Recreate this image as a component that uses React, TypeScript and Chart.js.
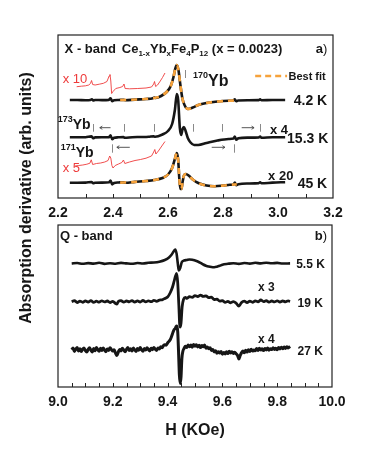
import React, { useEffect, useRef } from "react";
import { Chart, registerables } from "chart.js";

Chart.register(...registerables);

const FONT = "'Liberation Sans', Arial, Helvetica, sans-serif";

// ---------------- Panel a) X-band ----------------
const xBandTicks = [2.2, 2.4, 2.6, 2.8, 3.0, 3.2];

const h42 = [2.243, 2.27, 2.3, 2.318, 2.323, 2.328, 2.335, 2.36, 2.385, 2.391, 2.397, 2.404, 2.42, 2.44, 2.445, 2.48, 2.52, 2.545, 2.55, 2.555, 2.575, 2.595, 2.61, 2.62, 2.627, 2.632, 2.638, 2.645, 2.652, 2.66, 2.672, 2.69, 2.71, 2.74, 2.78, 2.82, 2.838, 2.843, 2.848, 2.855, 2.89, 2.93, 2.935, 2.94, 2.98, 3.026];
const s42 = [98, 98, 97.8, 98, 98.8, 97.5, 98, 97.9, 98.1, 99.8, 96.7, 97.7, 98, 98.3, 97.7, 98.4, 99, 99.8, 100.4, 100, 102, 106, 112, 121, 130, 133, 128, 113, 100, 93, 89, 90.5, 93, 95, 96.5, 97.2, 97.5, 98.7, 96.8, 97.5, 97.8, 97.9, 98.6, 97.7, 98, 98];

const hFit42 = [2.426, 2.46, 2.5, 2.53, 2.555, 2.575, 2.595, 2.61, 2.62, 2.627, 2.632, 2.638, 2.645, 2.652, 2.66, 2.672, 2.69, 2.71, 2.74, 2.78, 2.82, 2.841];
const sFit42 = [98, 98.2, 98.6, 99.3, 100.3, 102, 106, 112, 121, 130, 133, 128, 113, 100, 93, 89, 90.5, 93, 95, 96.5, 97.2, 97.5];

const h153 = [2.243, 2.27, 2.3, 2.322, 2.328, 2.335, 2.36, 2.386, 2.391, 2.397, 2.404, 2.42, 2.438, 2.443, 2.47, 2.5, 2.53, 2.548, 2.553, 2.58, 2.6, 2.615, 2.625, 2.632, 2.637, 2.643, 2.648, 2.653, 2.658, 2.664, 2.672, 2.682, 2.695, 2.71, 2.74, 2.78, 2.82, 2.838, 2.843, 2.848, 2.856, 2.89, 2.93, 2.935, 2.94, 2.98, 3.026];
const s153 = [60.7, 60.7, 60.8, 61.6, 59.8, 60.6, 60.7, 60.9, 62.7, 58.8, 60.2, 60.7, 61, 60.2, 60.8, 61, 61.3, 61.8, 61.2, 63.5, 67, 74, 88, 104, 98, 70, 63, 69, 71, 67, 60, 55.5, 53, 53, 55, 57.5, 59, 59.4, 61.5, 58.2, 59.7, 60.4, 60.6, 61.4, 60.2, 60.7, 60.7];

const h45 = [2.243, 2.27, 2.3, 2.322, 2.328, 2.335, 2.36, 2.386, 2.391, 2.397, 2.404, 2.42, 2.44, 2.445, 2.48, 2.52, 2.55, 2.58, 2.6, 2.615, 2.625, 2.632, 2.637, 2.641, 2.645, 2.649, 2.653, 2.658, 2.665, 2.675, 2.69, 2.71, 2.74, 2.77, 2.8, 2.825, 2.838, 2.843, 2.848, 2.856, 2.89, 2.93, 2.935, 2.94, 2.98, 3.026];
const s45 = [15.3, 15.3, 15.4, 16, 14.8, 15.3, 15.4, 15.7, 17.5, 13.6, 15, 15.5, 15.8, 15.2, 16.1, 17, 18, 20, 23.5, 30, 39, 45, 38, 20, 9, 9, 16, 22.5, 24, 22.5, 18.5, 15, 12.5, 11.8, 12.4, 13.2, 13.5, 15.4, 12.7, 13.8, 14.5, 14.9, 15.8, 14.7, 15.4, 15.8];

const hFit45 = [2.426, 2.47, 2.52, 2.55, 2.58, 2.6, 2.615, 2.625, 2.632, 2.637, 2.641, 2.645, 2.649, 2.653, 2.658, 2.665, 2.675, 2.69, 2.71, 2.74, 2.77, 2.8, 2.825, 2.85];
const sFit45 = [15.4, 15.9, 17, 18, 20, 23.5, 30, 39, 45, 38, 20, 9, 9, 16, 22.5, 24, 22.5, 18.5, 15, 12.5, 11.8, 12.4, 13.2, 13.6];

const hRed10 = [2.268, 2.285, 2.3, 2.312, 2.318, 2.322, 2.326, 2.335, 2.35, 2.365, 2.378, 2.386, 2.389, 2.392, 2.395, 2.4, 2.41, 2.425, 2.435, 2.44, 2.444, 2.46, 2.49, 2.52, 2.54, 2.548, 2.551, 2.555, 2.562, 2.572, 2.58, 2.589];
const sRed10 = [111.3, 111.8, 112.2, 113, 114.5, 117.5, 113.5, 113, 113.8, 114.7, 116.5, 122, 123.5, 117, 104.5, 106.5, 109.5, 110.5, 111.5, 114, 109.5, 109.2, 109.5, 110, 111, 114, 116.5, 111.5, 113, 117, 120.5, 125];

const hRed5 = [2.262, 2.275, 2.29, 2.305, 2.316, 2.321, 2.326, 2.34, 2.355, 2.37, 2.382, 2.388, 2.392, 2.396, 2.4, 2.408, 2.42, 2.432, 2.438, 2.443, 2.46, 2.48, 2.5, 2.52, 2.54, 2.548, 2.552, 2.556, 2.565, 2.575, 2.589];
const sRed5 = [32, 32.5, 33, 33.8, 34.8, 38.2, 33.5, 34.5, 35, 36, 37.5, 42, 40, 32.5, 30, 32.5, 34, 35.5, 38, 34.5, 36, 37.5, 38.5, 39.8, 42, 46, 48.5, 44, 47, 51, 56.5];

// hyperfine line positions (KOe)
const hf173 = [2.328, 2.441, 2.55, 2.69, 2.795, 2.935];
const hf171 = [2.397, 2.841];
const hf170 = [2.662];

// ---------------- Panel b) Q-band ----------------
const qBandTicks = [9.0, 9.2, 9.4, 9.6, 9.8, 10.0];

const h55 = [9.05, 9.07, 9.09, 9.11, 9.13, 9.15, 9.17, 9.19, 9.21, 9.23, 9.25, 9.27, 9.29, 9.31, 9.33, 9.35, 9.37, 9.39, 9.405, 9.415, 9.422, 9.428, 9.433, 9.437, 9.441, 9.446, 9.452, 9.46, 9.47, 9.48, 9.49, 9.5, 9.51, 9.52, 9.53, 9.54, 9.55, 9.56, 9.57, 9.58, 9.59, 9.6, 9.62, 9.64, 9.66, 9.68, 9.7, 9.72, 9.74, 9.76, 9.78, 9.8, 9.82, 9.847];
const s55 = [123.5, 124, 123.2, 123.9, 123.4, 124.2, 123.1, 123.8, 123.3, 124.1, 123.6, 123.2, 124, 123.5, 124.2, 124.5, 125.3, 127, 129.5, 132.5, 135.5, 137.5, 133, 124, 116.5, 119, 125, 126.5, 127, 127.5, 127.3, 126.5, 125.5, 124.2, 122.5, 121.3, 120.5, 120, 119.8, 120.3, 121.2, 122.3, 123.2, 123.8, 123.1, 124, 123.4, 124.2, 123.6, 124.3, 123.7, 124.1, 123.5, 123.6];

const h19 = [9.05, 9.06, 9.07, 9.08, 9.09, 9.1, 9.11, 9.12, 9.13, 9.14, 9.15, 9.16, 9.17, 9.18, 9.19, 9.2, 9.21, 9.215, 9.22, 9.23, 9.24, 9.25, 9.26, 9.27, 9.28, 9.29, 9.3, 9.31, 9.32, 9.33, 9.34, 9.35, 9.36, 9.37, 9.38, 9.39, 9.4, 9.41, 9.418, 9.424, 9.429, 9.433, 9.437, 9.441, 9.445, 9.449, 9.453, 9.458, 9.465, 9.47, 9.48, 9.49, 9.5, 9.51, 9.52, 9.53, 9.54, 9.55, 9.56, 9.57, 9.58, 9.59, 9.6, 9.61, 9.62, 9.63, 9.64, 9.65, 9.66, 9.665, 9.67, 9.68, 9.69, 9.7, 9.71, 9.72, 9.73, 9.74, 9.75, 9.76, 9.77, 9.78, 9.79, 9.8, 9.81, 9.82, 9.83, 9.84, 9.847];
const s19 = [85.2, 86.3, 84.5, 85.9, 84.7, 86.1, 85, 86.4, 84.6, 85.8, 84.9, 86.2, 85.1, 86, 84.4, 85.7, 83.4, 82.8, 85.5, 86.3, 84.8, 86, 85.2, 86.4, 84.9, 86.1, 85, 86.5, 85.1, 86.2, 85.3, 86.6, 85.7, 86.9, 87.2, 88.6, 90, 94.5, 100, 106, 111, 113.5, 104, 82, 60, 64, 80, 87.5, 89.5, 88.6, 90.3, 89.6, 91.4, 90.5, 91.9, 90.6, 91.2, 89.3, 89.9, 87.5, 87.8, 85.9, 86.4, 84.6, 85.7, 84.2, 85.4, 83.9, 80.8, 82.5, 84.6, 85.8, 84.5, 85.9, 84.7, 86.1, 85.2, 87, 85.4, 86.3, 84.8, 86, 85.1, 86.2, 84.9, 86, 85.2, 86.1, 85.5];

const h27 = [9.05, 9.055, 9.06, 9.065, 9.07, 9.075, 9.08, 9.085, 9.09, 9.095, 9.1, 9.105, 9.11, 9.115, 9.12, 9.125, 9.13, 9.135, 9.14, 9.145, 9.15, 9.155, 9.16, 9.165, 9.17, 9.175, 9.18, 9.185, 9.19, 9.195, 9.2, 9.205, 9.21, 9.215, 9.22, 9.225, 9.23, 9.235, 9.24, 9.245, 9.25, 9.255, 9.26, 9.265, 9.27, 9.275, 9.28, 9.285, 9.29, 9.295, 9.3, 9.305, 9.31, 9.315, 9.32, 9.325, 9.33, 9.335, 9.34, 9.345, 9.35, 9.355, 9.36, 9.365, 9.37, 9.375, 9.38, 9.385, 9.39, 9.395, 9.4, 9.405, 9.41, 9.415, 9.42, 9.424, 9.428, 9.431, 9.434, 9.437, 9.44, 9.443, 9.446, 9.449, 9.452, 9.456, 9.46, 9.465, 9.47, 9.475, 9.48, 9.485, 9.49, 9.495, 9.5, 9.505, 9.51, 9.515, 9.52, 9.525, 9.53, 9.535, 9.54, 9.545, 9.55, 9.555, 9.56, 9.565, 9.57, 9.575, 9.58, 9.585, 9.59, 9.595, 9.6, 9.605, 9.61, 9.615, 9.62, 9.625, 9.63, 9.635, 9.64, 9.645, 9.65, 9.655, 9.66, 9.665, 9.67, 9.675, 9.68, 9.685, 9.69, 9.695, 9.7, 9.705, 9.71, 9.715, 9.72, 9.725, 9.73, 9.735, 9.74, 9.745, 9.75, 9.755, 9.76, 9.765, 9.77, 9.775, 9.78, 9.785, 9.79, 9.795, 9.8, 9.805, 9.81, 9.815, 9.82, 9.825, 9.83, 9.835, 9.84, 9.847];
const s27 = [37.2, 38.9, 35.6, 37.8, 39.4, 36.1, 38.2, 35.4, 37.9, 39.1, 36.3, 34.9, 37.6, 39.2, 36.8, 35.1, 38.4, 36.2, 39.6, 37.3, 35.8, 38.7, 36.4, 39.1, 37, 35.3, 38.1, 36.6, 39.3, 37.4, 35.9, 37.2, 33.8, 31.5, 34.9, 37.6, 36.1, 38.8, 36.9, 35.2, 37.7, 39.4, 36.5, 38.3, 36, 38.9, 37.1, 35.6, 38.4, 36.8, 39.5, 37.2, 35.7, 38.6, 36.9, 39.2, 37.5, 36.1, 38.8, 37.3, 39.6, 37.8, 36.6, 38.9, 38.1, 40.2, 39.3, 41.4, 42.3, 41.8, 44, 45.6, 47.5, 51, 55, 57.5, 58.5, 60.5, 61, 55, 35, 12, 3.5, 10, 28, 36, 38.5, 40.8, 39.6, 42, 40.3, 41.9, 39.8, 42.6, 40.7, 42.2, 40.1, 41.8, 39.4, 41.5, 40.2, 41.9, 38.7, 40.1, 38.3, 39.2, 36.6, 37.4, 35.1, 36.2, 33.8, 35.3, 33.9, 35.5, 32.7, 34.6, 33.1, 35.2, 33.4, 35.8, 34.1, 35.3, 33.6, 34.8, 33.2, 31.8, 28, 31.5, 34.4, 35.9, 34.2, 36.7, 34.9, 37.3, 35.6, 37.8, 35.9, 37.1, 36.2, 38.4, 36.5, 38.7, 37, 38.2, 36.4, 38.5, 37.1, 38.9, 36.8, 38.3, 37.4, 39.2, 37.6, 38.8, 37.2, 39.4, 38, 39.7, 38.3, 39.9, 38.6, 40.3, 39.1, 40.6];

// ---------------- helpers ----------------
const pts = (xs: number[], ys: number[]) => xs.map((x, i) => ({ x, y: ys[i] }));

const BLACK = "#161616";
const ORANGE = "#f6a23b";
const RED = "#ee3b3b";

type Part = { t: string; size: number; dy?: number; weight?: string };

function drawRich(ctx: CanvasRenderingContext2D, x: number, yMid: number, parts: Part[], align: string, color: string) {
  const main = Math.max(...parts.map((p) => p.size));
  let w = 0;
  parts.forEach((p) => {
    ctx.font = `${p.weight ?? "bold"} ${p.size}px ${FONT}`;
    w += ctx.measureText(p.t).width;
  });
  let cx = align === "right" ? x - w : align === "center" ? x - w / 2 : x;
  const base = yMid + main * 0.36;
  ctx.fillStyle = color;
  ctx.textAlign = "left";
  ctx.textBaseline = "alphabetic";
  parts.forEach((p) => {
    ctx.font = `${p.weight ?? "bold"} ${p.size}px ${FONT}`;
    ctx.fillText(p.t, cx, base + (p.dy ?? 0));
    cx += ctx.measureText(p.t).width;
  });
}

function drawFrameAndTicks(chart: any, step: number, lo: number, hi: number) {
  const { ctx, chartArea: a, scales } = chart;
  ctx.save();
  ctx.strokeStyle = "#222";
  ctx.lineWidth = 1.2;
  ctx.strokeRect(a.left, a.top, a.right - a.left, a.bottom - a.top);
  ctx.lineWidth = 1;
  const n = Math.round((hi - lo) / step);
  for (let i = 1; i < n; i++) {
    const px = Math.round(scales.x.getPixelForValue(lo + i * step)) + 0.5;
    ctx.beginPath();
    ctx.moveTo(px, a.bottom);
    ctx.lineTo(px, a.bottom - 4);
    ctx.stroke();
  }
  ctx.restore();
}

function arrow(ctx: CanvasRenderingContext2D, x1: number, x2: number, y: number) {
  const d = x2 > x1 ? -1 : 1;
  ctx.beginPath();
  ctx.moveTo(x1, y);
  ctx.lineTo(x2, y);
  ctx.moveTo(x2, y);
  ctx.lineTo(x2 + d * 2.5, y - 1.6);
  ctx.moveTo(x2, y);
  ctx.lineTo(x2 + d * 2.5, y + 1.6);
  ctx.stroke();
}

const panelAPlugin = {
  id: "panelA",
  afterDraw(chart: any) {
    const { ctx, scales } = chart;
    const X = (v: number) => scales.x.getPixelForValue(v);
    const Y = (v: number) => scales.y.getPixelForValue(v);
    drawFrameAndTicks(chart, 0.1, 2.2, 3.2);
    ctx.save();
    // hyperfine markers
    ctx.strokeStyle = "#8a8a8a";
    ctx.lineWidth = 1;
    hf173.forEach((h) => {
      const px = Math.round(X(h)) + 0.5;
      ctx.beginPath(); ctx.moveTo(px, Y(74)); ctx.lineTo(px, Y(66.3)); ctx.stroke();
    });
    hf171.forEach((h) => {
      const px = Math.round(X(h)) + 0.5;
      ctx.beginPath(); ctx.moveTo(px, Y(53.7)); ctx.lineTo(px, Y(45.3)); ctx.stroke();
    });
    hf170.forEach((h) => {
      const px = Math.round(X(h)) + 0.5;
      ctx.beginPath(); ctx.moveTo(px, Y(128)); ctx.lineTo(px, Y(120)); ctx.stroke();
    });
    // arrows
    ctx.strokeStyle = "#444";
    ctx.lineWidth = 0.9;
    arrow(ctx, X(2.391), X(2.352), Y(70.3));
    arrow(ctx, X(2.868), X(2.913), Y(70.3));
    arrow(ctx, X(2.461), X(2.414), Y(50.7));
    arrow(ctx, X(2.759), X(2.807), Y(50.7));
    // legend
    ctx.strokeStyle = ORANGE;
    ctx.lineWidth = 2.6;
    ctx.setLineDash([6, 4]);
    ctx.beginPath(); ctx.moveTo(X(2.917), Y(122)); ctx.lineTo(X(3.033), Y(122)); ctx.stroke();
    ctx.setLineDash([]);
    drawRich(ctx, X(3.038), Y(122), [{ t: "Best fit", size: 11 }], "left", BLACK);
    // title
    drawRich(ctx, X(2.224), Y(150), [{ t: "X - band", size: 13 }], "left", BLACK);
    drawRich(ctx, X(2.432), Y(150), [
      { t: "Ce", size: 13 }, { t: "1-x", size: 8, dy: 3 }, { t: "Yb", size: 13 }, { t: "x", size: 8, dy: 3 },
      { t: "Fe", size: 13 }, { t: "4", size: 8, dy: 3 }, { t: "P", size: 13 }, { t: "12", size: 8, dy: 3 },
      { t: " (x = 0.0023)", size: 13 },
    ], "left", BLACK);
    drawRich(ctx, X(3.179), Y(150), [{ t: "a", size: 13 }, { t: ")", size: 13, weight: "normal" }], "right", BLACK);
    // isotope labels
    drawRich(ctx, X(2.691), Y(118), [{ t: "170", size: 9, dy: -8 }, { t: "Yb", size: 16 }], "left", BLACK);
    drawRich(ctx, X(2.199), Y(74), [{ t: "173", size: 9, dy: -7 }, { t: "Yb", size: 14 }], "left", BLACK);
    drawRich(ctx, X(2.21), Y(46), [{ t: "171", size: 9, dy: -7 }, { t: "Yb", size: 14 }], "left", BLACK);
    // magnification + temperature labels
    drawRich(ctx, X(2.217), Y(120), [{ t: "x 10", size: 13, weight: "normal" }], "left", RED);
    drawRich(ctx, X(2.217), Y(31), [{ t: "x 5", size: 13, weight: "normal" }], "left", RED);
    drawRich(ctx, X(2.971), Y(69), [{ t: "x 4", size: 13 }], "left", BLACK);
    drawRich(ctx, X(2.964), Y(22.5), [{ t: "x 20", size: 13 }], "left", BLACK);
    drawRich(ctx, X(3.179), Y(98), [{ t: "4.2 K", size: 14 }], "right", BLACK);
    drawRich(ctx, X(3.183), Y(60.5), [{ t: "15.3 K", size: 14 }], "right", BLACK);
    drawRich(ctx, X(3.179), Y(15), [{ t: "45 K", size: 14 }], "right", BLACK);
    // shared y-axis title
    ctx.translate(27, 198);
    ctx.rotate(-Math.PI / 2);
    ctx.font = `bold 16px ${FONT}`;
    ctx.fillStyle = BLACK;
    ctx.textAlign = "center";
    ctx.textBaseline = "middle";
    ctx.fillText("Absorption derivative (arb. units)", 0, 0);
    ctx.restore();
  },
};

const panelBPlugin = {
  id: "panelB",
  afterDraw(chart: any) {
    const { ctx, scales } = chart;
    const X = (v: number) => scales.x.getPixelForValue(v);
    const Y = (v: number) => scales.y.getPixelForValue(v);
    drawFrameAndTicks(chart, 0.05, 9.0, 10.0);
    ctx.save();
    drawRich(ctx, X(9.007), Y(152), [{ t: "Q - band", size: 13 }], "left", BLACK);
    drawRich(ctx, X(9.982), Y(152), [{ t: "b", size: 13 }, { t: ")", size: 13, weight: "normal" }], "right", BLACK);
    drawRich(ctx, X(9.974), Y(123.5), [{ t: "5.5 K", size: 12 }], "right", BLACK);
    drawRich(ctx, X(9.967), Y(84.5), [{ t: "19 K", size: 12 }], "right", BLACK);
    drawRich(ctx, X(9.967), Y(36), [{ t: "27 K", size: 12 }], "right", BLACK);
    drawRich(ctx, X(9.73), Y(100.3), [{ t: "x 3", size: 12 }], "left", BLACK);
    drawRich(ctx, X(9.73), Y(48.7), [{ t: "x 4", size: 12 }], "left", BLACK);
    ctx.restore();
  },
};

const blackLine = (data: any[], w = 2.6) => ({
  data,
  borderColor: BLACK,
  borderWidth: w,
  pointRadius: 0,
  tension: 0,
  cubicInterpolationMode: "monotone",
  order: 1,
});

function xAxis(ticks: number[], min: number, max: number, height: number, extra: any = {}) {
  return {
    type: "linear",
    min,
    max,
    grid: { display: false, drawTicks: false },
    border: { display: false },
    afterBuildTicks: (s: any) => {
      s.ticks = ticks.map((v) => ({ value: v }));
    },
    afterFit: (s: any) => {
      s.height = height;
    },
    ticks: {
      autoSkip: false,
      maxRotation: 0,
      padding: 7,
      color: BLACK,
      font: { family: FONT, size: 14, weight: "bold" },
      callback: (v: any) => Number(v).toFixed(1),
    },
    ...extra,
  };
}

export default function App() {
  const refA = useRef<HTMLCanvasElement>(null);
  const refB = useRef<HTMLCanvasElement>(null);

  useEffect(() => {
    const a = new Chart(refA.current as HTMLCanvasElement, {
      type: "line",
      data: {
        datasets: [
          { data: pts(hFit42, sFit42), borderColor: ORANGE, borderWidth: 2.6, borderDash: [6, 5], pointRadius: 0, cubicInterpolationMode: "monotone", order: 0 },
          { data: pts(hFit45, sFit45), borderColor: ORANGE, borderWidth: 2.6, borderDash: [6, 5], pointRadius: 0, cubicInterpolationMode: "monotone", order: 0 },
          blackLine(pts(h42, s42)),
          blackLine(pts(h153, s153)),
          blackLine(pts(h45, s45)),
          { data: pts(hRed10, sRed10), borderColor: RED, borderWidth: 0.9, pointRadius: 0, order: 2 },
          { data: pts(hRed5, sRed5), borderColor: RED, borderWidth: 0.9, pointRadius: 0, order: 2 },
        ] as any,
      },
      options: {
        responsive: false,
        animation: false,
        events: [],
        layout: { padding: { left: 58, right: 38, top: 35, bottom: 235 } },
        plugins: { legend: { display: false }, tooltip: { enabled: false } },
        scales: {
          x: xAxis(xBandTicks, 2.2, 3.2, 27) as any,
          y: { type: "linear", display: false, min: 0, max: 163 },
        },
      },
      plugins: [panelAPlugin],
    });

    const b = new Chart(refB.current as HTMLCanvasElement, {
      type: "line",
      data: {
        datasets: [
          blackLine(pts(h55, s55), 2.6),
          blackLine(pts(h19, s19), 2.8),
          blackLine(pts(h27, s27), 3),
        ] as any,
      },
      options: {
        responsive: false,
        animation: false,
        events: [],
        layout: { padding: { left: 58, right: 39, top: 10, bottom: 20 } },
        plugins: { legend: { display: false }, tooltip: { enabled: false } },
        scales: {
          x: xAxis(qBandTicks, 9.0, 10.0, 53, {
            title: {
              display: true,
              text: "H (KOe)",
              color: BLACK,
              font: { family: FONT, size: 16, weight: "bold" },
              padding: { top: 0, bottom: 0 },
            },
          }) as any,
          y: { type: "linear", display: false, min: 0, max: 162 },
        },
      },
      plugins: [panelBPlugin],
    });

    return () => {
      a.destroy();
      b.destroy();
    };
  }, []);

  return (
    <div style={{ position: "absolute", left: 0, top: 0, width: 371, height: 460, background: "#fff" }}>
      <canvas ref={refA} width={371} height={460} style={{ position: "absolute", left: 0, top: 0, width: 371, height: 460 }} />
      <canvas ref={refB} width={371} height={245} style={{ position: "absolute", left: 0, top: 215, width: 371, height: 245 }} />
    </div>
  );
}
